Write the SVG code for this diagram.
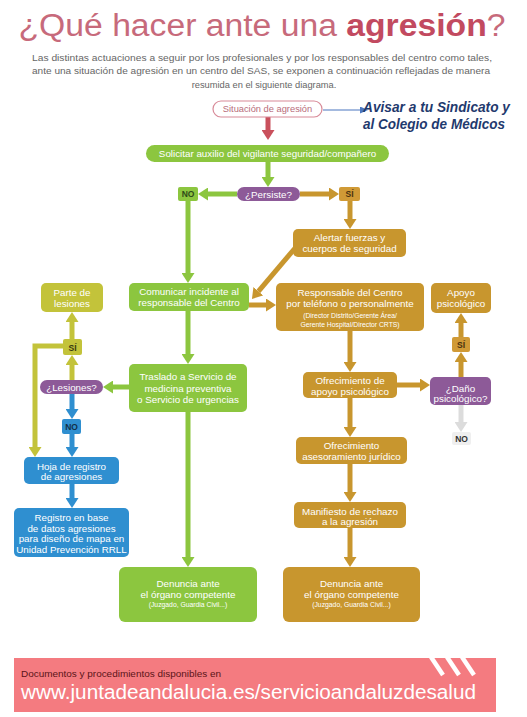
<svg xmlns="http://www.w3.org/2000/svg" width="527" height="717" viewBox="0 0 527 717">
<style>
text{font-family:"Liberation Sans",Arial,sans-serif;}
.t{font-size:9.8px;fill:#fff;text-anchor:middle;}
.s{font-size:6.8px;fill:#fff;text-anchor:middle;}
.lb{font-size:8.5px;font-weight:bold;text-anchor:middle;}
.sub{font-size:9.3px;fill:#666;text-anchor:middle;}
.c{fill:none;stroke-width:5;}
.g{fill:#8cc63f;} .o{fill:#c8962e;} .p{fill:#8d5a98;} .y{fill:#c3c33a;} .b{fill:#2f8fd0;}
</style>
<defs>
<marker id="mg" viewBox="0 0 10 10" refX="0" refY="5" markerWidth="10" markerHeight="13" markerUnits="userSpaceOnUse" orient="auto" preserveAspectRatio="none"><path d="M0,0L10,5L0,10z" fill="#8cc63f"/></marker>
<marker id="mo" viewBox="0 0 10 10" refX="0" refY="5" markerWidth="10" markerHeight="13" markerUnits="userSpaceOnUse" orient="auto" preserveAspectRatio="none"><path d="M0,0L10,5L0,10z" fill="#c8962e"/></marker>
<marker id="my" viewBox="0 0 10 10" refX="0" refY="5" markerWidth="10" markerHeight="13" markerUnits="userSpaceOnUse" orient="auto" preserveAspectRatio="none"><path d="M0,0L10,5L0,10z" fill="#c3c33a"/></marker>
<marker id="mb" viewBox="0 0 10 10" refX="0" refY="5" markerWidth="10" markerHeight="13" markerUnits="userSpaceOnUse" orient="auto" preserveAspectRatio="none"><path d="M0,0L10,5L0,10z" fill="#2f8fd0"/></marker>
<marker id="mr" viewBox="0 0 10 10" refX="0" refY="5" markerWidth="10" markerHeight="13" markerUnits="userSpaceOnUse" orient="auto" preserveAspectRatio="none"><path d="M0,0L10,5L0,10z" fill="#c9505c"/></marker>
<marker id="mx" viewBox="0 0 10 10" refX="0" refY="5" markerWidth="10" markerHeight="13" markerUnits="userSpaceOnUse" orient="auto" preserveAspectRatio="none"><path d="M0,0L10,5L0,10z" fill="#dcdcdc"/></marker>
<marker id="mn" viewBox="0 0 10 10" refX="0" refY="5" markerWidth="8" markerHeight="7" markerUnits="userSpaceOnUse" orient="auto" preserveAspectRatio="none"><path d="M0,0L10,5L0,10z" fill="#4a76c0"/></marker>
</defs>
<rect width="527" height="717" fill="#fff"/>

<g id="header">
<text x="262" y="36" font-family="'Open Sans','Liberation Sans',sans-serif" font-size="31" fill="#c76a7b" text-anchor="middle" textLength="487" lengthAdjust="spacingAndGlyphs">¿Qué hacer ante una <tspan font-weight="bold" fill="#c24a60">agresión</tspan>?</text>
<text class="sub" x="262" y="61" textLength="460" lengthAdjust="spacingAndGlyphs">Las distintas actuaciones a seguir por los profesionales y por los responsables del centro como tales,</text>
<text class="sub" x="261" y="74" textLength="458" lengthAdjust="spacingAndGlyphs">ante una situación de agresión en un centro del SAS, se exponen a continuación reflejadas de manera</text>
<text class="sub" x="264" y="88">resumida en el siguiente diagrama.</text>
</g>

<g id="connectors">
<line x1="268" y1="117" x2="268" y2="130" class="c" stroke="#c9505c" marker-end="url(#mr)"/>
<line x1="323" y1="110" x2="360" y2="110" stroke="#4a76c0" stroke-width="1.2" marker-end="url(#mn)"/>
<line x1="268" y1="162" x2="268" y2="177" class="c" stroke="#8cc63f" marker-end="url(#mg)"/>
<line x1="237" y1="194" x2="208" y2="194" class="c" stroke="#8cc63f" marker-end="url(#mg)"/>
<line x1="300" y1="194" x2="329" y2="194" class="c" stroke="#c8962e" marker-end="url(#mo)"/>
<line x1="350" y1="201" x2="350" y2="219" class="c" stroke="#c8962e" marker-end="url(#mo)"/>
<line x1="188" y1="201" x2="188" y2="273" class="c" stroke="#8cc63f" marker-end="url(#mg)"/>
<line x1="296" y1="247" x2="258.4" y2="291.3" class="c" stroke="#c8962e" marker-end="url(#mo)"/>
<line x1="249" y1="305" x2="266" y2="305" class="c" stroke="#c8962e" marker-end="url(#mo)"/>
<line x1="350" y1="331" x2="350" y2="362" class="c" stroke="#c8962e" marker-end="url(#mo)"/>
<line x1="397" y1="385" x2="420" y2="385" class="c" stroke="#c8962e" marker-end="url(#mo)"/>
<line x1="461" y1="377" x2="461" y2="362" class="c" stroke="#c8962e" marker-end="url(#mo)"/>
<line x1="461" y1="337" x2="461" y2="323" class="c" stroke="#c8962e" marker-end="url(#mo)"/>
<line x1="461" y1="405" x2="461" y2="422" class="c" stroke="#dcdcdc" marker-end="url(#mx)"/>
<line x1="350" y1="398" x2="350" y2="427" class="c" stroke="#c8962e" marker-end="url(#mo)"/>
<line x1="350" y1="464" x2="350" y2="492" class="c" stroke="#c8962e" marker-end="url(#mo)"/>
<line x1="350" y1="528" x2="350" y2="557" class="c" stroke="#c8962e" marker-end="url(#mo)"/>
<line x1="188" y1="311" x2="188" y2="354" class="c" stroke="#8cc63f" marker-end="url(#mg)"/>
<line x1="188" y1="412" x2="188" y2="557" class="c" stroke="#8cc63f" marker-end="url(#mg)"/>
<line x1="129" y1="387" x2="113" y2="387" class="c" stroke="#8cc63f" marker-end="url(#mg)"/>
<line x1="72" y1="380" x2="72" y2="365" class="c" stroke="#c3c33a" marker-end="url(#my)"/>
<line x1="72" y1="339" x2="72" y2="322" class="c" stroke="#c3c33a" marker-end="url(#my)"/>
<polyline points="63,346 35,346 35,447" class="c" stroke="#c3c33a" marker-end="url(#my)"/>
<line x1="72" y1="394" x2="72" y2="409" class="c" stroke="#2f8fd0" marker-end="url(#mb)"/>
<line x1="72" y1="434" x2="72" y2="447" class="c" stroke="#2f8fd0" marker-end="url(#mb)"/>
<line x1="72" y1="484" x2="72" y2="498" class="c" stroke="#2f8fd0" marker-end="url(#mb)"/>
</g>

<g id="situacion">
<rect x="213" y="101" width="109" height="16" rx="8" fill="#fff" stroke="#d88a98" stroke-width="1.2"/>
<text x="267.5" y="112.3" font-size="9.3" fill="#b86c7a" text-anchor="middle">Situación de agresión</text>
</g>
<g id="avisar">
<text x="363" y="112" font-family="'Open Sans','Liberation Sans',sans-serif" font-size="14" font-weight="bold" font-style="italic" fill="#1f3a6e" textLength="147" lengthAdjust="spacingAndGlyphs">Avisar a tu Sindicato y</text>
<text x="363" y="129" font-family="'Open Sans','Liberation Sans',sans-serif" font-size="14" font-weight="bold" font-style="italic" fill="#1f3a6e" textLength="142" lengthAdjust="spacingAndGlyphs">al Colegio de Médicos</text>
</g>
<g id="solicitar">
<rect x="146" y="145" width="243" height="17" rx="8.5" class="g"/>
<text class="t" x="267.5" y="157" font-size="9.5">Solicitar auxilio del vigilante seguridad/compañero</text>
</g>
<g id="persiste">
<rect x="237" y="187" width="63" height="14" rx="7" class="p"/>
<text class="t" x="268.5" y="197.5" font-size="9.5">¿Persiste?</text>
</g>
<g id="no1">
<rect x="178" y="187" width="20" height="14" rx="2" class="g"/>
<text class="lb" x="188" y="197.3" fill="#2e4a18">NO</text>
</g>
<g id="si1">
<rect x="339" y="187" width="21" height="14" rx="2" fill="#d09a36"/>
<text class="lb" x="349.5" y="197.3" fill="#4a3210">SÍ</text>
</g>
<g id="alertar">
<rect x="293" y="229" width="113" height="28" rx="5" class="o"/>
<text class="t" x="349.5" y="241">Alertar fuerzas y</text>
<text class="t" x="349.5" y="252">cuerpos de seguridad</text>
</g>
<g id="comunicar">
<rect x="129" y="283" width="120" height="28" rx="5" class="g"/>
<text class="t" x="189" y="295">Comunicar incidente al</text>
<text class="t" x="189" y="306">responsable del Centro</text>
</g>
<g id="responsable">
<rect x="276" y="283" width="148" height="48" rx="5" class="o"/>
<text class="t" x="350" y="296">Responsable del Centro</text>
<text class="t" x="350" y="307">por teléfono o personalmente</text>
<text class="s" x="350" y="318">(Director Distrito/Gerente Área/</text>
<text class="s" x="350" y="326.5">Gerente Hospital/Director CRTS)</text>
</g>
<g id="apoyo">
<rect x="431" y="283" width="60" height="30" rx="5" class="o"/>
<text class="t" x="461" y="296">Apoyo</text>
<text class="t" x="461" y="306.5">psicológico</text>
</g>
<g id="si3">
<rect x="452" y="337" width="18" height="15" rx="2" fill="#d09a36"/>
<text class="lb" x="461" y="347.8" fill="#4a3210">SÍ</text>
</g>
<g id="dano">
<rect x="430" y="377" width="61" height="28" rx="5" class="p"/>
<text class="t" x="460.5" y="391.5">¿Daño</text>
<text class="t" x="460.5" y="401.5">psicológico?</text>
</g>
<g id="no3">
<rect x="452" y="432" width="19" height="13" rx="2" fill="#efefef"/>
<text class="lb" x="461.5" y="441.8" fill="#333">NO</text>
</g>
<g id="ofrecimiento-apoyo">
<rect x="303" y="372" width="94" height="26" rx="5" class="o"/>
<text class="t" x="350" y="384">Ofrecimiento de</text>
<text class="t" x="350" y="395">apoyo psicológico</text>
</g>
<g id="ofrecimiento-juridico">
<rect x="296" y="437" width="111" height="27" rx="5" class="o"/>
<text class="t" x="351.5" y="448.5">Ofrecimiento</text>
<text class="t" x="351.5" y="460">asesoramiento jurídico</text>
</g>
<g id="manifiesto">
<rect x="294" y="502" width="112" height="26" rx="5" class="o"/>
<text class="t" x="350" y="514.5">Manifiesto de rechazo</text>
<text class="t" x="350" y="525">a la agresión</text>
</g>
<g id="denuncia-oro">
<rect x="283" y="567" width="137" height="55" rx="6" class="o"/>
<text class="t" x="351.5" y="587">Denuncia ante</text>
<text class="t" x="351.5" y="597.5">el órgano competente</text>
<text class="s" x="351.5" y="606.5">(Juzgado, Guardia Civil...)</text>
</g>
<g id="traslado">
<rect x="129" y="364" width="118" height="48" rx="5" class="g"/>
<text class="t" x="188" y="380">Traslado a Servicio de</text>
<text class="t" x="188" y="392">medicina preventiva</text>
<text class="t" x="188" y="403">o Servicio de urgencias</text>
</g>
<g id="denuncia-verde">
<rect x="119" y="567" width="138" height="55" rx="6" class="g"/>
<text class="t" x="188" y="587">Denuncia ante</text>
<text class="t" x="188" y="597.5">el órgano competente</text>
<text class="s" x="188" y="606.5">(Juzgado, Guardia Civil...)</text>
</g>
<g id="lesiones">
<rect x="40" y="380" width="63" height="14" rx="7" class="p"/>
<text class="t" x="71.5" y="390.5" font-size="9.5">¿Lesiones?</text>
</g>
<g id="si2">
<rect x="63" y="339" width="19" height="16" rx="2" class="y"/>
<text class="lb" x="72.5" y="350.5" fill="#3a3a10">SÍ</text>
</g>
<g id="parte">
<rect x="41" y="283" width="62" height="29" rx="5" class="y"/>
<text class="t" x="72" y="296">Parte de</text>
<text class="t" x="72" y="306.5">lesiones</text>
</g>
<g id="no2">
<rect x="62" y="419" width="19" height="15" rx="2" class="b"/>
<text class="lb" x="71.5" y="429.8" fill="#12304a">NO</text>
</g>
<g id="hoja">
<rect x="24" y="457" width="95" height="27" rx="5" class="b"/>
<text class="t" x="71.5" y="469.5">Hoja de registro</text>
<text class="t" x="71.5" y="480">de agresiones</text>
</g>
<g id="registro">
<rect x="14" y="508" width="115" height="49" rx="5" class="b"/>
<text class="t" x="71.5" y="521">Registro en base</text>
<text class="t" x="71.5" y="531.5">de datos agresiones</text>
<text class="t" x="71.5" y="542">para diseño de mapa en</text>
<text class="t" x="71.5" y="552.5">Unidad Prevención RRLL</text>
</g>

<g id="footer">
<rect x="14" y="658" width="482" height="54" fill="#f47b80"/>
<g stroke="#fff" stroke-width="4.5">
<line x1="431" y1="657" x2="443" y2="675"/>
<line x1="447" y1="657" x2="459" y2="675"/>
<line x1="462" y1="657" x2="474" y2="675"/>
</g>
<text x="21" y="676.5" font-size="8.8" fill="#5a1418" textLength="200" lengthAdjust="spacingAndGlyphs">Documentos y procedimientos disponibles en</text>
<text x="21" y="699" font-size="20" fill="#fff" textLength="455" lengthAdjust="spacingAndGlyphs">www.juntadeandalucia.es/servicioandaluzdesalud</text>
</g>
</svg>
